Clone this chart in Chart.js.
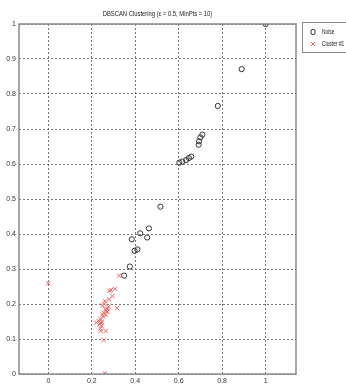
<!DOCTYPE html>
<html>
<head>
<meta charset="utf-8">
<script src="https://cdn.jsdelivr.net/npm/chart.js@4"></script>
<style>
  html, body { margin: 0; padding: 0; background: #fff; }
  #wrap { width: 346px; height: 386px; position: relative; }
</style>
</head>
<body>
<div id="wrap"><canvas id="dbscanChart"></canvas></div>
<script>
const chartTitle = 'DBSCAN Clustering (ε = 0.5, MinPts = 10)';
const seriesLabels = ['Noise', 'Cluster #1'];

const noiseX = [1.0, 0.89, 0.78, 0.709, 0.70, 0.694, 0.692, 0.658, 0.647, 0.634, 0.617, 0.603,
  0.516, 0.463, 0.423, 0.455, 0.384, 0.41, 0.397, 0.375, 0.349];
const noiseY = [1.0, 0.871, 0.766, 0.684, 0.676, 0.665, 0.655, 0.621, 0.617, 0.611, 0.607, 0.604,
  0.478, 0.416, 0.402, 0.39, 0.385, 0.356, 0.352, 0.307, 0.281];

const clusterX = [0, 0.326, 0.306, 0.288, 0.281, 0.295, 0.28, 0.261, 0.249, 0.277, 0.317, 0.263,
  0.271, 0.255, 0.264, 0.252, 0.24, 0.231, 0.221, 0.246, 0.237, 0.245, 0.24, 0.241, 0.264, 0.255,
  0.26, 0.268, 0.258, 0.25, 0.243, 0.272];
const clusterY = [0.259, 0.281, 0.243, 0.24, 0.238, 0.223, 0.213, 0.208, 0.196, 0.192, 0.188, 0.185,
  0.178, 0.175, 0.169, 0.164, 0.157, 0.152, 0.147, 0.149, 0.143, 0.137, 0.13, 0.123, 0.123, 0.097,
  0.002, 0.18, 0.2, 0.17, 0.145, 0.186];

const xTicks = [0, 0.2, 0.4, 0.6, 0.8, 1];
const yTicks = [0, 0.1, 0.2, 0.3, 0.4, 0.5, 0.6, 0.7, 0.8, 0.9, 1];

const fontFamily = "'Liberation Sans', Arial, sans-serif";

const toPoints = (xs, ys) => xs.map((x, i) => ({ x: x, y: ys[i] }));

// narrow text, the original uses a condensed face
function narrowText(ctx, text, x, y, align, sx) {
  ctx.save();
  ctx.translate(x, y);
  ctx.scale(sx, 1);
  ctx.textAlign = align;
  ctx.fillText(text, 0, 0);
  ctx.restore();
}

// box around the axes + title + legend, matlab style
const matlabFrame = {
  id: 'matlabFrame',
  afterDraw(chart) {
    const { ctx, chartArea: a } = chart;
    ctx.save();
    ctx.strokeStyle = '#8a8a8a';
    ctx.lineWidth = 1.5;
    ctx.strokeRect(a.left, a.top, a.right - a.left, a.bottom - a.top);

    ctx.fillStyle = '#222';
    ctx.font = '7.5px ' + fontFamily;
    ctx.textBaseline = 'middle';
    narrowText(ctx, chartTitle, (a.left + a.right) / 2, 14, 'center', 0.78);

    // legend box
    const lx = 302, ly = 22, lw = 52, lh = 30;
    ctx.fillStyle = '#fff';
    ctx.fillRect(lx, ly, lw, lh);
    ctx.strokeStyle = '#888';
    ctx.lineWidth = 1;
    ctx.strokeRect(lx + 0.5, ly + 0.5, lw, lh);
    chart.data.datasets.forEach((ds, i) => {
      const y = 32 + i * 12;
      ctx.strokeStyle = ds.borderColor;
      ctx.lineWidth = 1;
      if (ds.pointStyle === 'circle') {
        ctx.beginPath();
        ctx.ellipse(313, y, 2.2, 2.8, 0, 0, Math.PI * 2);
        ctx.stroke();
      } else {
        ctx.beginPath();
        ctx.moveTo(311, y - 2); ctx.lineTo(315, y + 2);
        ctx.moveTo(315, y - 2); ctx.lineTo(311, y + 2);
        ctx.stroke();
      }
      ctx.fillStyle = '#222';
      ctx.font = '7px ' + fontFamily;
      narrowText(ctx, ds.label, 322, y, 'left', 0.7);
    });
    ctx.restore();
  }
};

const data = {
  datasets: [
    {
      label: seriesLabels[0],
      data: toPoints(noiseX, noiseY),
      pointStyle: 'circle',
      pointRadius: 2.6,
      borderColor: '#333',
      backgroundColor: 'rgba(0,0,0,0)',
      borderWidth: 1,
      showLine: false
    },
    {
      label: seriesLabels[1],
      data: toPoints(clusterX, clusterY),
      pointStyle: 'crossRot',
      pointRadius: 3,
      borderColor: '#f26262',
      backgroundColor: '#f26262',
      borderWidth: 1,
      showLine: false
    }
  ]
};

const config = {
  type: 'scatter',
  data,
  plugins: [matlabFrame],
  options: {
    responsive: true,
    maintainAspectRatio: false,
    animation: false,
    layout: { padding: { top: 24, right: 50, left: 0, bottom: 0 } },
    plugins: {
      legend: { display: false },
      title: { display: false },
      tooltip: { enabled: false }
    },
    scales: {
      x: {
        min: -0.135,
        max: 1.14,
        afterBuildTicks: s => { s.ticks = xTicks.map(v => ({ value: v })); },
        afterFit: s => { s.height = 12; },
        border: { display: false, dash: [2, 2] },
        grid: { color: '#555', lineWidth: 0.8, drawTicks: false },
        ticks: {
          color: '#333', padding: 3, maxRotation: 0,
          font: { size: 7, family: fontFamily },
          callback: v => String(Math.round(v * 10) / 10)
        }
      },
      y: {
        min: 0,
        max: 1,
        afterBuildTicks: s => { s.ticks = yTicks.map(v => ({ value: v })); },
        afterFit: s => { s.width = 19; },
        border: { display: false, dash: [2, 2] },
        grid: { color: '#555', lineWidth: 0.8, drawTicks: false },
        ticks: {
          color: '#333', padding: 3,
          font: { size: 7, family: fontFamily },
          callback: v => String(Math.round(v * 10) / 10)
        }
      }
    }
  }
};

const dbscanChart = new Chart(document.getElementById('dbscanChart'), config);
</script>
</body>
</html>
